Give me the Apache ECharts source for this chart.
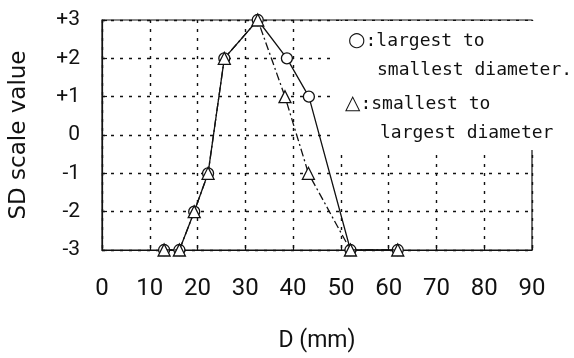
<!DOCTYPE html>
<html>
<head>
<meta charset="utf-8">
<script src="https://cdn.jsdelivr.net/npm/echarts@6/dist/echarts.min.js"></script>
<style>
  html, body { margin: 0; padding: 0; background: #fff; }
  #chart { width: 574px; height: 358px; }
</style>
</head>
<body>
<div id="chart"></div>
<script>
// Diameter D (mm) of each stimulus and its SD scale value
const dLargestFirst = [13.0, 16.2, 19.3, 22.2, 25.6, 32.6, 38.7, 43.3, 52.0, 61.9];
const sdLargestFirst = [-3, -3, -2, -1, 2, 3, 2, 1, -3, -3];
const dSmallestFirst = [13.0, 16.2, 19.3, 22.2, 25.6, 32.6, 38.3, 43.2, 52.0, 61.9];
const sdSmallestFirst = [-3, -3, -2, -1, 2, 3, 1, -1, -3, -3];

// Axis tick labels
const xTicks = ['0', '10', '20', '30', '40', '50', '60', '70', '80', '90'];
const yTicks = ['-3', '-2', '-1', '0', '+1', '+2', '+3'];

// Key text lines
const keyLines = [
  ['○', ':largest to'],
  ['', 'smallest diameter.'],
  ['△', ':smallest to'],
  ['', 'largest diameter']
];

const pairs = (xs, ys) => xs.map((x, i) => [x, ys[i]]);

const chart = echarts.init(document.getElementById('chart'), null, { renderer: 'canvas' });

const gridStyle = { color: '#111', width: 1.4, type: [3, 6] };
const labelFont = 'Roboto, "Noto Sans", sans-serif';

const keyPos = [
  { x: 348, y: 42 },
  { x: 377, y: 72 },
  { x: 345, y: 105 },
  { x: 380, y: 135 }
];

const keyGraphics = keyLines.map((ln, i) => ({
  type: 'text',
  left: keyPos[i].x,
  top: keyPos[i].y - 11,
  z: 110,
  style: {
    text: (ln[0] ? '{s|' + ln[0] + '}' : '') + '{t|' + ln[1] + '}',
    rich: {
      s: { fontFamily: '"DejaVu Sans", sans-serif', fontSize: 20, fill: '#111', lineHeight: 22 },
      t: { fontFamily: '"DejaVu Sans Mono", monospace', fontSize: 18, fill: '#111', lineHeight: 22 }
    }
  }
}));

chart.setOption({
  backgroundColor: '#fff',
  animation: false,
  grid: {
    left: 99, right: 42, top: 20, bottom: 101,
    show: true, borderColor: '#111', borderWidth: 1.2, backgroundColor: 'transparent'
  },
  xAxis: {
    type: 'value', min: 0, max: 90, interval: 10,
    name: 'D (mm)', nameLocation: 'middle', nameGap: 80,
    nameTextStyle: { fontFamily: labelFont, fontSize: 23, color: '#111' },
    axisLine: { show: true, onZero: false, lineStyle: { color: '#111', width: 1.2 } },
    axisTick: { show: true, inside: true, length: 5, lineStyle: { color: '#111', width: 1.2 } },
    axisLabel: {
      fontFamily: labelFont, fontSize: 24, color: '#111', margin: 27,
      formatter: (v) => xTicks[Math.round(v / 10)]
    },
    splitLine: { show: true, lineStyle: gridStyle }
  },
  yAxis: {
    type: 'value', min: -3, max: 3, interval: 1,
    name: 'SD scale value', nameLocation: 'middle', nameGap: 71, nameRotate: 90,
    nameTextStyle: { fontFamily: '"DejaVu Sans", sans-serif', fontSize: 23, color: '#111' },
    axisLine: { show: true, onZero: false, lineStyle: { color: '#111', width: 1.2 } },
    axisTick: { show: true, inside: true, length: 5, lineStyle: { color: '#111', width: 1.2 } },
    axisLabel: {
      fontFamily: labelFont, fontSize: 21, color: '#111', margin: 22,
      formatter: (v) => yTicks[Math.round(v) + 3]
    },
    splitLine: { show: true, lineStyle: gridStyle }
  },
  graphic: [
    {
      type: 'rect', left: 336, top: 21, z: 100,
      shape: { width: 230, height: 129 },
      style: { fill: '#fff' }
    }
  ].concat(keyGraphics),
  series: [
    {
      name: 'largest to smallest diameter',
      type: 'line',
      data: pairs(dLargestFirst, sdLargestFirst),
      symbol: 'circle', symbolSize: 11,
      itemStyle: { color: '#fff', borderColor: '#111', borderWidth: 1.3 },
      lineStyle: { color: '#111', width: 1.3 },
      z: 3
    },
    {
      name: 'smallest to largest diameter',
      type: 'line',
      data: pairs(dSmallestFirst, sdSmallestFirst),
      symbol: 'triangle', symbolSize: 12,
      itemStyle: { color: '#fff', borderColor: '#111', borderWidth: 1.3 },
      lineStyle: { color: '#111', width: 1.3, type: [8, 3, 2, 3] },
      z: 4
    }
  ]
});
</script>
</body>
</html>
